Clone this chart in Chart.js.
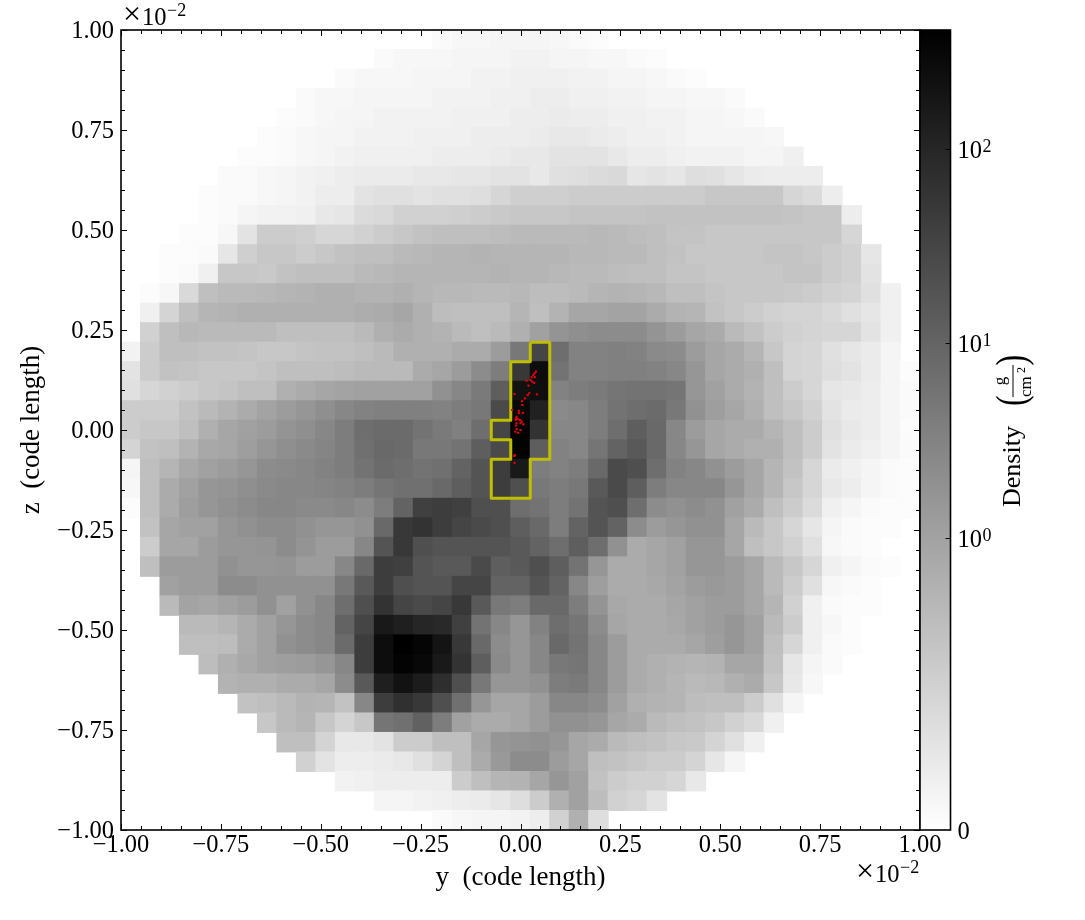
<!DOCTYPE html>
<html>
<head>
<meta charset="utf-8">
<title>Density slice</title>
<script src="https://cdn.jsdelivr.net/npm/chart.js@4/dist/chart.umd.min.js"></script>
<style>
    html, body { margin: 0; padding: 0; background: #fff; }
    #wrap { position: relative; width: 1085px; height: 920px; overflow: hidden; }
    canvas { position: absolute; top: 0; }
    #slice { left: 0; }
    #cbar { left: 900px; }
</style>
</head>
<body>
<div id="wrap">
    <canvas id="slice" width="1085" height="920"></canvas>
    <canvas id="cbar" width="185" height="920"></canvas>
</div>
<script>
// cell values read off the picture as position on the colour bar (0 = white, 100 = black)
// one row per z cell, top row first, 41 cells from y = -1 to y = 1
const row00 = [0,0,0,0,0,0,0,0,0,0,0,0,0,0,0,0,2,3,3,4,4,4,3,2,1,0,0,0,0,0,0,0,0,0,0,0,0,0,0,0,0];
const row01 = [0,0,0,0,0,0,0,0,0,0,0,0,0,2,3,3,3,4,4,4,5,5,4,4,3,3,2,1,0,0,0,0,0,0,0,0,0,0,0,0,0];
const row02 = [0,0,0,0,0,0,0,0,0,0,0,2,3,3,3,4,4,4,5,5,6,6,6,5,5,4,4,3,2,1,0,0,0,0,0,0,0,0,0,0,0];
const row03 = [0,0,0,0,0,0,0,0,0,2,3,3,4,4,4,4,5,5,5,6,6,7,7,6,6,5,5,4,4,3,3,2,0,0,0,0,0,0,0,0,0];
const row04 = [0,0,0,0,0,0,0,0,1,2,3,4,4,5,5,5,5,6,6,6,7,7,8,7,7,6,6,5,5,4,4,3,2,0,0,0,0,0,0,0,0];
const row05 = [0,0,0,0,0,0,0,1,2,3,4,4,5,5,5,6,6,6,7,7,7,8,9,9,8,7,6,6,5,4,4,4,4,3,0,0,0,0,0,0,0];
const row06 = [0,0,0,0,0,0,1,1,2,3,4,5,6,6,6,6,7,7,7,8,9,9,11,11,11,9,7,7,6,5,5,5,4,4,6,0,0,0,0,0,0];
const row07 = [0,0,0,0,0,2,2,3,4,5,6,7,8,8,8,9,9,10,10,11,11,9,12,13,14,15,10,11,10,13,12,10,8,7,7,7,0,0,0,0,0];
const row08 = [0,0,0,0,1,2,2,3,4,5,7,7,11,12,12,11,12,12,13,16,19,19,19,20,20,20,20,20,20,20,22,22,22,22,16,14,7,0,0,0,0];
const row09 = [0,0,0,0,1,2,4,5,5,6,9,10,14,15,18,18,18,19,20,21,22,22,22,23,23,23,23,24,24,24,24,24,24,24,23,22,22,7,0,0,0];
const row10 = [0,0,0,1,1,3,11,20,20,19,16,16,18,20,22,24,25,25,25,26,27,27,27,27,28,27,26,25,23,23,22,22,22,22,22,22,22,16,0,0,0];
const row11 = [0,0,1,1,2,10,19,22,22,20,22,24,25,25,27,28,29,29,30,29,29,29,29,28,28,27,27,25,24,22,22,22,22,23,23,22,20,18,10,0,0];
const row12 = [0,0,1,2,6,22,22,21,24,25,25,25,27,28,29,29,29,29,29,30,29,29,28,27,27,26,25,25,23,23,22,22,22,22,23,23,20,18,11,0,0];
const row13 = [0,1,3,15,25,27,27,28,29,30,31,31,30,30,31,29,28,28,27,27,28,26,26,27,29,30,29,28,25,25,23,22,22,22,21,20,18,17,12,6,0];
const row14 = [0,6,17,25,29,30,31,31,31,31,31,31,32,33,35,31,26,25,25,25,29,25,30,35,35,36,36,33,30,29,24,22,20,18,17,17,15,12,10,6,0];
const row15 = [0,18,25,28,27,27,27,27,25,25,25,25,27,31,33,31,30,27,25,27,31,37,42,44,45,45,45,42,39,35,33,27,24,20,18,17,16,16,11,6,0];
const row16 = [5,20,25,25,24,24,23,22,22,23,24,24,25,27,31,31,31,33,33,39,53,73,57,49,49,50,49,46,45,39,35,33,29,22,17,16,12,10,8,4,0];
const row17 = [11,20,24,23,22,22,22,23,25,25,25,26,27,27,27,33,35,39,45,51,78,95,55,49,49,50,50,49,47,41,35,33,31,25,17,16,13,11,8,4,1];
const row18 = [12,16,18,20,22,23,25,25,31,33,35,36,37,37,37,37,43,47,52,63,93,94,49,51,52,54,55,55,54,41,37,33,30,25,20,16,10,9,7,4,2];
const row19 = [20,20,20,24,27,30,33,36,39,41,44,47,49,50,50,50,49,51,53,71,97,87,46,47,51,55,57,58,53,43,38,35,31,25,22,18,11,8,7,4,2];
const row20 = [20,22,22,25,31,35,37,39,42,44,47,51,57,58,58,55,52,50,57,73,99,80,47,47,51,57,63,59,47,39,35,33,33,29,25,20,12,9,7,4,1];
const row21 = [17,24,25,30,34,35,38,41,44,46,48,51,56,59,58,53,53,55,63,71,99,63,49,47,54,61,65,59,47,41,35,33,31,31,25,20,11,8,6,4,2];
const row22 = [4,25,29,34,37,39,41,45,46,47,49,51,55,58,57,55,56,61,67,76,90,51,49,51,59,71,69,57,49,47,43,39,35,29,24,16,8,6,4,2,1];
const row23 = [3,25,33,37,41,42,44,46,47,47,48,49,51,54,56,56,59,63,67,76,69,53,51,53,65,71,63,51,47,47,47,41,35,29,22,16,9,7,4,2,1];
const row24 = [1,25,33,38,41,43,45,47,47,46,46,47,45,51,61,75,76,75,69,69,57,55,51,55,67,69,57,45,43,45,43,37,33,25,20,14,6,4,2,1,1];
const row25 = [0,24,35,37,37,41,43,45,45,43,41,41,43,59,78,80,76,73,71,69,63,59,51,61,67,61,45,39,41,43,43,35,27,22,16,10,4,2,1,1,0];
const row26 = [0,20,35,35,39,41,41,42,45,42,39,39,47,67,78,69,67,67,67,67,65,61,57,63,57,43,33,35,37,41,41,35,25,22,18,12,3,2,1,0,0];
const row27 = [0,25,39,39,39,43,41,41,42,39,39,47,59,76,75,67,65,65,71,63,65,69,63,55,41,33,33,35,37,41,41,39,35,27,22,16,6,4,2,1,0];
const row28 = [0,0,37,39,39,45,45,43,43,43,43,53,65,76,69,67,67,73,73,61,61,67,61,47,38,33,33,34,36,39,40,39,35,27,20,12,3,2,1,0,0];
const row29 = [0,0,27,36,35,37,39,43,37,43,47,57,69,80,73,71,73,78,65,53,51,59,59,51,42,34,33,33,35,37,39,39,35,29,18,6,2,1,1,0,0];
const row30 = [0,0,0,27,27,29,33,37,41,45,47,61,73,90,88,85,84,75,55,47,41,49,57,54,45,35,33,33,34,37,39,41,37,27,20,6,3,1,0,0,0];
const row31 = [0,0,0,25,25,26,33,37,43,45,47,58,76,95,100,98,92,78,59,45,41,47,59,55,47,39,33,33,33,35,38,41,37,25,16,6,2,1,0,0,0];
const row32 = [0,0,0,0,26,31,34,37,38,39,41,47,76,95,99,97,90,80,63,46,41,47,53,54,47,39,33,31,30,29,30,35,35,24,10,4,2,0,0,0,0];
const row33 = [0,0,0,0,0,30,31,31,33,33,35,45,65,88,93,89,82,69,53,41,41,43,51,52,47,39,33,31,29,27,28,31,33,22,9,3,0,0,0,0,0];
const row34 = [0,0,0,0,0,0,24,25,27,30,29,24,47,76,81,78,69,56,41,35,35,39,47,47,45,37,31,30,29,26,25,25,20,12,4,0,0,0,0,0,0];
const row35 = [0,0,0,0,0,0,0,22,27,29,22,17,22,54,56,62,51,37,33,33,35,39,43,43,41,35,33,27,25,24,22,18,15,6,0,0,0,0,0,0,0];
const row36 = [0,0,0,0,0,0,0,0,25,25,17,9,9,11,20,20,25,25,35,41,42,43,41,35,33,27,25,24,22,21,17,12,6,0,0,0,0,0,0,0,0];
const row37 = [0,0,0,0,0,0,0,0,0,18,11,7,7,8,9,12,17,25,33,40,45,45,39,35,25,24,22,20,20,17,10,4,0,0,0,0,0,0,0,0,0];
const row38 = [0,0,0,0,0,0,0,0,0,0,0,5,6,7,7,7,7,20,25,29,30,35,41,37,24,20,18,18,16,9,0,0,0,0,0,0,0,0,0,0,0];
const row39 = [0,0,0,0,0,0,0,0,0,0,0,0,0,4,4,5,6,7,8,10,13,20,31,37,26,18,16,11,0,0,0,0,0,0,0,0,0,0,0,0,0];
const row40 = [0,0,0,0,0,0,0,0,0,0,0,0,0,0,0,0,2,3,4,4,5,7,18,31,13,0,0,0,0,0,0,0,0,0,0,0,0,0,0,0,0];
const levelRows = [row00,row01,row02,row03,row04,row05,row06,row07,row08,row09,row10,
    row11,row12,row13,row14,row15,row16,row17,row18,row19,row20,
    row21,row22,row23,row24,row25,row26,row27,row28,row29,row30,
    row31,row32,row33,row34,row35,row36,row37,row38,row39,row40];

// yellow clump outline, in code length / 1e-2
const contourY = [0.0244,0.0732,0.0732,0.0244,0.0244,-0.0732,-0.0732,-0.0244,-0.0244,-0.0732,-0.0732,-0.0244,-0.0244,0.0244,0.0244];
const contourZ = [0.2195,0.2195,-0.0732,-0.0732,-0.1707,-0.1707,-0.0732,-0.0732,-0.0244,-0.0244,0.0244,0.0244,0.1707,0.1707,0.2195];

// red particles
const particleY = [0.039,0.035,0.032,0.036,0.028,0.025,0.015,0.029,0.034,0.020,-0.015,0.022,0.018,0.041,0.011,0.004,0.005,-0.021,-0.004,0.006,-0.004,-0.010,-0.011,-0.012,-0.007,-0.001,0.003,-0.010,0.000,0.007,-0.011,-0.010,0.000,-0.013,-0.006,-0.016,-0.014,-0.015];
const particleZ = [0.146,0.142,0.1375,0.132,0.132,0.125,0.123,0.121,0.118,0.111,0.090,0.092,0.0875,0.089,0.079,0.072,0.0625,0.050,0.048,0.043,0.042,0.033,0.029,0.025,0.0275,0.025,0.021,0.017,0.017,0.014,0.011,0.0025,0.000,-0.004,-0.007,-0.065,-0.0625,-0.082];

const axisTicks = [-1,-0.75,-0.5,-0.25,0,0.25,0.5,0.75,1];
const axisTickLabels = ['\u22121.00','\u22120.75','\u22120.50','\u22120.25','0.00','0.25','0.50','0.75','1.00'];
const axisMinorTicks = [-0.95,-0.9,-0.85,-0.8,-0.7,-0.65,-0.6,-0.55,-0.45,-0.4,-0.35,-0.3,-0.2,-0.15,-0.1,-0.05,0.05,0.1,0.15,0.2,0.3,0.35,0.4,0.45,0.55,0.6,0.65,0.7,0.8,0.85,0.9,0.95];

// colour bar ticks: position on the bar, base, exponent
const cbarTickLevels = [0,36.5,60.9,85.1];
const cbarTickBases = ['0','10','10','10'];
const cbarTickPowers = ['','0','1','2'];

const serif = '"Liberation Serif", "DejaVu Serif", serif';
const cellSize = 2 / 41;

function grayFor(level) {
    const g = Math.round(255 * (1 - level / 100));
    return `rgb(${g},${g},${g})`;
}

// flatten the rows into scatter points at the cell centres
const cellPoints = [];
levelRows.forEach((row, r) => {
    row.forEach((level, c) => {
        if (level > 0) {
            cellPoints.push({ x: -1 + (c + 0.5) * cellSize, y: 1 - (r + 0.5) * cellSize, level: level });
        }
    });
});

const contourPoints = contourY.map((v, i) => ({ x: v, y: contourZ[i] }));
const particlePoints = particleY.map((v, i) => ({ x: v, y: particleZ[i] }));

function cellRadius(ctx) {
    const xs = ctx.chart.scales.x;
    const half = Math.abs(xs.getPixelForValue(cellSize) - xs.getPixelForValue(0)) / 2;
    // a little overlap so the cell edges do not show as a lattice
    return (half + 0.5) * Math.SQRT2;
}

function scientificLabel(ctx, x, baseline) {
    // the x10^-2 offset text
    ctx.save();
    ctx.fillStyle = '#000';
    ctx.textAlign = 'left';
    ctx.textBaseline = 'alphabetic';
    ctx.font = '32px ' + serif;
    ctx.fillText('\u00d7', x - 1, baseline - 1);
    ctx.font = '24.5px ' + serif;
    ctx.fillText('10', x + 18, baseline);
    ctx.font = '18px ' + serif;
    ctx.fillText('\u22122', x + 43, baseline - 9);
    ctx.restore();
}

const frameTicks = {
    id: 'frameTicks',
    afterDatasetsDraw(chart) {
        const { ctx, chartArea: a, scales } = chart;
        ctx.save();
        ctx.strokeStyle = '#000';
        ctx.lineWidth = 1;
        const tick = (x0, y0, x1, y1) => {
            ctx.beginPath();
            ctx.moveTo(x0, y0);
            ctx.lineTo(x1, y1);
            ctx.stroke();
        };
        const draw = (vals, len) => {
            vals.forEach(v => {
                const px = Math.round(scales.x.getPixelForValue(v)) + 0.5;
                const py = Math.round(scales.y.getPixelForValue(v)) + 0.5;
                tick(px, a.bottom, px, a.bottom - len);
                tick(px, a.top, px, a.top + len);
                tick(a.left, py, a.left + len, py);
                tick(a.right, py, a.right - len, py);
            });
        };
        draw(axisMinorTicks, 4);
        draw(axisTicks, 6);
        ctx.lineWidth = 1.6;
        ctx.strokeRect(a.left, a.top, a.right - a.left, a.bottom - a.top);
        ctx.restore();
        scientificLabel(ctx, 124, 25);
        scientificLabel(ctx, 857, 882);
    }
};

new Chart(document.getElementById('slice'), {
    type: 'scatter',
    data: {
        datasets: [
            {
                label: 'Particles',
                data: particlePoints,
                order: 1,
                pointStyle: 'rect',
                pointRadius: 1.5,
                borderWidth: 0,
                backgroundColor: '#e8000c'
            },
            {
                label: 'Clump',
                data: contourPoints,
                order: 2,
                showLine: true,
                pointRadius: 0,
                borderColor: '#bfbf00',
                borderWidth: 3,
                borderJoinStyle: 'round',
                fill: false
            },
            {
                label: 'Density',
                data: cellPoints,
                order: 3,
                pointStyle: 'rect',
                pointRadius: cellRadius,
                borderWidth: 0,
                backgroundColor: ctx => grayFor(ctx.raw ? ctx.raw.level : 0)
            }
        ]
    },
    options: {
        responsive: false,
        animation: false,
        events: [],
        layout: { padding: { top: 30, right: 165, left: 0, bottom: 0 } },
        plugins: { legend: { display: false }, tooltip: { enabled: false } },
        scales: {
            x: {
                type: 'linear',
                min: -1,
                max: 1,
                afterFit: s => { s.height = 90; },
                afterBuildTicks: s => { s.ticks = axisTicks.map(v => ({ value: v })); },
                grid: { display: false, drawTicks: false },
                border: { display: false },
                ticks: {
                    autoSkip: false,
                    maxRotation: 0,
                    padding: 1,
                    color: '#000',
                    font: { family: serif, size: 24.5 },
                    callback: v => axisTickLabels[axisTicks.indexOf(v)]
                },
                title: {
                    display: true,
                    text: 'y  (code length)',
                    color: '#000',
                    font: { family: serif, size: 27 },
                    padding: { top: 0, bottom: 26 }
                }
            },
            y: {
                type: 'linear',
                min: -1,
                max: 1,
                afterFit: s => { s.width = 121; },
                afterBuildTicks: s => { s.ticks = axisTicks.map(v => ({ value: v })); },
                grid: { display: false, drawTicks: false },
                border: { display: false },
                ticks: {
                    autoSkip: false,
                    padding: 7,
                    labelOffset: 2,
                    color: '#000',
                    font: { family: serif, size: 24.5 },
                    callback: v => axisTickLabels[axisTicks.indexOf(v)]
                },
                title: {
                    display: true,
                    text: 'z  (code length)',
                    color: '#000',
                    font: { family: serif, size: 27 },
                    padding: { top: 16, bottom: 0 }
                }
            }
        }
    },
    plugins: [frameTicks]
});

const cbarLabels = {
    id: 'cbarLabels',
    afterDatasetsDraw(chart) {
        const { ctx, chartArea: a, scales } = chart;
        ctx.save();
        ctx.strokeStyle = '#000';
        ctx.fillStyle = '#000';
        ctx.lineWidth = 1;
        cbarTickLevels.forEach((lv, i) => {
            const py = Math.round(scales.y.getPixelForValue(lv)) + 0.5;
            if (lv > 0) {
                ctx.beginPath();
                ctx.moveTo(a.right, py);
                ctx.lineTo(a.right - 5, py);
                ctx.stroke();
            }
            ctx.textAlign = 'left';
            ctx.textBaseline = 'alphabetic';
            ctx.font = '24.5px ' + serif;
            ctx.fillText(cbarTickBases[i], a.right + 7, py + 8);
            if (cbarTickPowers[i]) {
                ctx.font = '18px ' + serif;
                ctx.fillText(cbarTickPowers[i], a.right + 32, py + 2);
            }
        });
        ctx.lineWidth = 1.6;
        ctx.strokeRect(a.left, a.top, a.right - a.left, a.bottom - a.top);

        // rotated colour bar title with the unit fraction
        ctx.translate(112, 507);
        ctx.rotate(-Math.PI / 2);
        ctx.textAlign = 'left';
        ctx.font = '26px ' + serif;
        ctx.fillText('Density', 0, 8);
        // stretched so the brackets stay thin
        ctx.save();
        ctx.translate(0, 13);
        ctx.scale(1, 1.35);
        ctx.font = '32px ' + serif;
        ctx.fillText('(', 101, 0);
        ctx.fillText(')', 141.5, 0);
        ctx.restore();
        ctx.lineWidth = 1;
        ctx.beginPath();
        ctx.moveTo(110, 1);
        ctx.lineTo(142, 1);
        ctx.stroke();
        ctx.textAlign = 'center';
        ctx.font = '17px ' + serif;
        ctx.fillText('g', 126, -7);
        ctx.textAlign = 'left';
        ctx.fillText('cm', 110, 19);
        ctx.font = '12px ' + serif;
        ctx.fillText('2', 134, 13);
        ctx.restore();
    }
};

new Chart(document.getElementById('cbar'), {
    type: 'bar',
    data: {
        labels: ['Density'],
        datasets: [{
            data: [[0, 100]],
            barPercentage: 1,
            categoryPercentage: 1,
            borderWidth: 0,
            backgroundColor: ctx => {
                const a = ctx.chart.chartArea;
                if (!a) return '#888';
                const g = ctx.chart.ctx.createLinearGradient(0, a.bottom, 0, a.top);
                g.addColorStop(0, '#ffffff');
                g.addColorStop(1, '#000000');
                return g;
            }
        }]
    },
    options: {
        responsive: false,
        animation: false,
        events: [],
        layout: { padding: { top: 30, bottom: 90, left: 20, right: 134.5 } },
        plugins: { legend: { display: false }, tooltip: { enabled: false } },
        scales: {
            x: { display: false },
            y: { display: false, min: 0, max: 100 }
        }
    },
    plugins: [cbarLabels]
});
</script>
</body>
</html>
